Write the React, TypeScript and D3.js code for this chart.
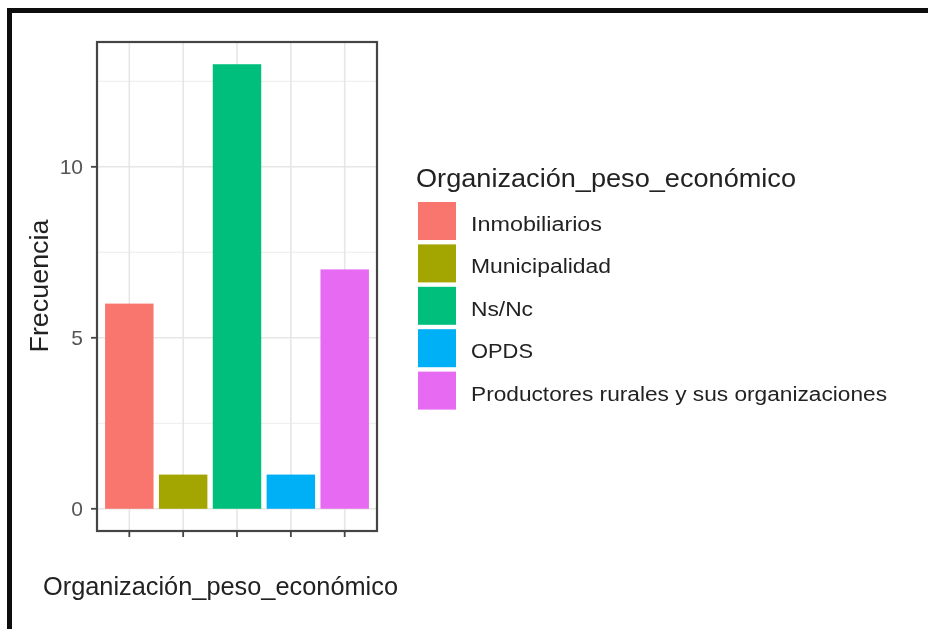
import React from "react";
import * as d3 from "d3";

const categories: string[] = [
  "Inmobiliarios",
  "Municipalidad",
  "Ns/Nc",
  "OPDS",
  "Productores rurales y sus organizaciones",
];
const frecuencias: number[] = [6, 1, 13, 1, 7];
const colores: string[] = ["#F8766D", "#A3A500", "#00BF7D", "#00B0F6", "#E76BF3"];
const yTicks: number[] = [0, 5, 10];
const yMinorTicks: number[] = [2.5, 7.5, 12.5];
const xTitle = "Organización_peso_económico";
const yTitle = "Frecuencia";
const legendTitle = "Organización_peso_económico";
const legendLabelWidths: number[] = [131, 140, 62, 62, 416];

const W = 928;
const H = 629;
const panel = { left: 97, right: 377, top: 42, bottom: 531 };
const FONT = "'Liberation Sans', Arial, Helvetica, sans-serif";

export default function App() {
  const maxV = d3.max(frecuencias) ?? 0;
  const pad = maxV * 0.05;
  const y = d3
    .scaleLinear()
    .domain([0 - pad, maxV + pad])
    .range([panel.bottom, panel.top]);
  const x = d3
    .scaleBand<string>()
    .domain(categories)
    .range([panel.left, panel.right])
    .paddingInner(0.1)
    .paddingOuter(0.15);
  const bw = x.bandwidth();
  const cx = (c: string) => (x(c) ?? 0) + bw / 2;

  const legendX = 418;
  const legendTop = 202;
  const keyStep = 42.4;
  const keySize = 38;

  return (
    <svg
      width={W}
      height={H}
      style={{ position: "absolute", left: 0, top: 0, background: "#fff" }}
      fontFamily={FONT}
    >
      <defs>
        <filter id="soft" x="-5%" y="-5%" width="110%" height="110%">
          <feGaussianBlur stdDeviation="0.6" />
        </filter>
      </defs>
      <rect x={0} y={0} width={W} height={H} fill="#ffffff" />
      <g filter="url(#soft)">
        {/* frame */}
        <rect x={7} y={8} width={W - 7} height={5} fill="#111" />
        <rect x={7} y={8} width={5} height={H - 8} fill="#111" />

        {/* panel background */}
        <rect
          x={panel.left}
          y={panel.top}
          width={panel.right - panel.left}
          height={panel.bottom - panel.top}
          fill="#fff"
        />
        {/* minor grid */}
        {yMinorTicks.map((t) => (
          <line
            key={"mn" + t}
            x1={panel.left}
            x2={panel.right}
            y1={y(t)}
            y2={y(t)}
            stroke="#F0F0F0"
            strokeWidth={1.2}
          />
        ))}
        {/* major grid */}
        {yTicks.map((t) => (
          <line
            key={"mj" + t}
            x1={panel.left}
            x2={panel.right}
            y1={y(t)}
            y2={y(t)}
            stroke="#E6E6E6"
            strokeWidth={1.6}
          />
        ))}
        {categories.map((c) => (
          <line
            key={"vg" + c}
            x1={cx(c)}
            x2={cx(c)}
            y1={panel.top}
            y2={panel.bottom}
            stroke="#E6E6E6"
            strokeWidth={1.6}
          />
        ))}

        {/* bars */}
        {categories.map((c, i) => (
          <rect
            key={"b" + c}
            x={x(c)}
            y={y(frecuencias[i])}
            width={bw}
            height={y(0) - y(frecuencias[i])}
            fill={colores[i]}
          />
        ))}

        {/* panel border */}
        <rect
          x={panel.left}
          y={panel.top}
          width={panel.right - panel.left}
          height={panel.bottom - panel.top}
          fill="none"
          stroke="#444"
          strokeWidth={2.2}
        />

        {/* y axis ticks */}
        {yTicks.map((t) => (
          <g key={"yt" + t}>
            <line
              x1={panel.left - 6}
              x2={panel.left}
              y1={y(t)}
              y2={y(t)}
              stroke="#444"
              strokeWidth={1.8}
            />
            <text
              x={panel.left - 14}
              y={y(t)}
              dy="0.36em"
              textAnchor="end"
              fontSize={21}
              fill="#555"
            >
              {t}
            </text>
          </g>
        ))}

        {/* x axis ticks */}
        {categories.map((c) => (
          <line
            key={"xt" + c}
            x1={cx(c)}
            x2={cx(c)}
            y1={panel.bottom}
            y2={panel.bottom + 6}
            stroke="#444"
            strokeWidth={1.8}
          />
        ))}

        {/* axis titles */}
        <text
          x={43}
          y={595}
          fontSize={25}
          fill="#222"
          textLength={355}
          lengthAdjust="spacingAndGlyphs"
        >
          {xTitle}
        </text>
        <text
          transform={`translate(48,${286}) rotate(-90)`}
          textAnchor="middle"
          fontSize={26}
          fill="#222"
          textLength={133}
          lengthAdjust="spacingAndGlyphs"
        >
          {yTitle}
        </text>

        {/* legend */}
        <text
          x={416}
          y={187}
          fontSize={26}
          fill="#222"
          textLength={380}
          lengthAdjust="spacingAndGlyphs"
        >
          {legendTitle}
        </text>
        {categories.map((c, i) => {
          const ky = legendTop + i * keyStep;
          return (
            <g key={"lg" + c}>
              <rect
                x={legendX}
                y={ky}
                width={keySize}
                height={keySize}
                fill={colores[i]}
              />
              <text
                x={471}
                y={ky + keySize / 2 + 10}
                fontSize={20}
                fill="#222"
                textLength={legendLabelWidths[i]}
                lengthAdjust="spacingAndGlyphs"
              >
                {c}
              </text>
            </g>
          );
        })}
      </g>
    </svg>
  );
}
